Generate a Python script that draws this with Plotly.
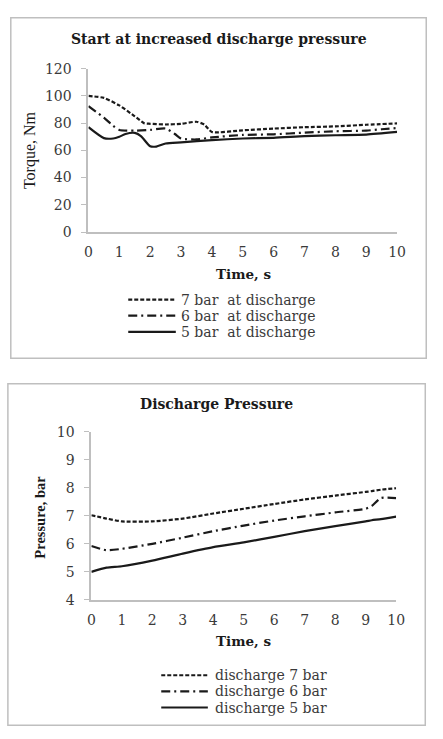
import plotly.graph_objects as go

W, H = 443, 739
def px(x): return x / W
def py(y): return 1 - y / H

# ---- Top chart data: torque (Nm) vs time (s)
t7 = [0, 0.5, 1, 1.5, 1.8, 2, 2.5, 3, 3.5, 3.75, 4, 5, 6, 7, 8, 9, 10]
q7 = [100, 98.5, 93, 85, 80, 79.5, 79, 79.5, 81, 79, 73.5, 74.7, 76, 77, 77.6, 78.8, 79.8]
t6 = [0, 0.5, 0.8, 1, 1.5, 2, 2.5, 2.8, 3, 3.5, 4, 5, 6, 7, 8, 9, 9.5, 10]
q6 = [92.5, 84, 78, 75, 74.5, 75, 76, 72, 68.7, 68, 69.5, 71.3, 71.8, 73, 74, 74.5, 75.5, 76.4]
t5 = [0, 0.5, 0.8, 1, 1.2, 1.5, 1.7, 2, 2.2, 2.5, 3, 4, 5, 6, 7, 8, 9, 10]
q5 = [77, 69, 68.7, 70, 72, 72.8, 70.5, 63, 62.8, 65, 65.9, 67.5, 68.7, 69.2, 70.4, 71.1, 71.6, 73.5]

# ---- Bottom chart data: discharge pressure (bar) vs time (s)
tp = [0, 0.5, 1, 2, 3, 4, 5, 6, 7, 8, 9, 9.2, 9.5, 10]
p7 = [7.02, 6.9, 6.8, 6.8, 6.9, 7.08, 7.25, 7.42, 7.58, 7.72, 7.85, 7.88, 7.93, 7.98]
p6 = [5.92, 5.77, 5.82, 6.0, 6.22, 6.45, 6.65, 6.83, 6.98, 7.12, 7.25, 7.35, 7.63, 7.63]
p5 = [5.0, 5.15, 5.2, 5.4, 5.65, 5.88, 6.05, 6.25, 6.45, 6.63, 6.8, 6.84, 6.88, 6.97]

top_names = ["7 bar\u00a0 at discharge", "6 bar\u00a0 at discharge", "5 bar\u00a0 at discharge"]
bot_names = ["discharge 7 bar", "discharge 6 bar", "discharge 5 bar"]

xticks = list(range(0, 11))
yticks_top = list(range(0, 121, 20))
yticks_bot = list(range(4, 11))

SERIF = "DejaVu Serif"
TSERIF = "Liberation Serif"
INK = "#1a1a1a"
TXT = "#3a3a3a"
GRID = "#bfbfbf"

dash7 = "4px,2px"
dash6 = "9px,4px,2px,4px"
dashes = [dash7, dash6, "solid"]

fig = go.Figure()
for (tx, vy), nm, d in zip([(t7, q7), (t6, q6), (t5, q5)], top_names, dashes):
    fig.add_trace(go.Scatter(x=tx, y=vy, mode="lines", name=nm, showlegend=False,
                             line=dict(color=INK, width=2.2, dash=d, shape="spline", smoothing=0.6),
                             xaxis="x", yaxis="y"))
for vy, nm, d in zip([p7, p6, p5], bot_names, dashes):
    fig.add_trace(go.Scatter(x=tp, y=vy, mode="lines", name=nm, showlegend=False,
                             line=dict(color=INK, width=2.2, dash=d, shape="spline", smoothing=0.6),
                             xaxis="x2", yaxis="y2"))

axfont = dict(family=SERIF, size=14, color=TXT)

def xax(anchor, dom):
    return dict(domain=dom, range=[0, 10], tickvals=xticks, showgrid=False, zeroline=False,
                showline=True, linecolor=GRID, linewidth=2, ticks="", tickfont=axfont,
                ticklabelstandoff=6, anchor=anchor, fixedrange=True)

def yax(anchor, dom, rng, tv):
    return dict(domain=dom, range=rng, tickvals=tv, showgrid=False, zeroline=False,
                showline=True, linecolor=GRID, linewidth=2, ticks="outside", ticklen=5,
                tickcolor=GRID, tickwidth=1, tickfont=axfont, ticklabelstandoff=7,
                anchor=anchor, fixedrange=True)

fig.update_layout(
    width=W, height=H, margin=dict(l=0, r=0, t=0, b=0),
    paper_bgcolor="white", plot_bgcolor="white",
    font=dict(family=SERIF, color=INK),
    xaxis=xax("y", [px(87), px(405)]),
    yaxis=yax("x", [py(229), py(62)], [0, 120], yticks_top),
    xaxis2=xax("y2", [px(90), px(404)]),
    yaxis2=yax("x2", [py(605), py(433)], [4, 10], yticks_bot),
    showlegend=False,
)

# frames
fig.add_shape(type="rect", xref="paper", yref="paper", x0=px(7), x1=px(435), y0=py(358), y1=py(10),
              line=dict(color=GRID, width=1.5))
fig.add_shape(type="rect", xref="paper", yref="paper", x0=px(4), x1=px(434), y0=py(733), y1=py(384),
              line=dict(color=GRID, width=1.5))

def ann(text, x, y, size, bold=True, angle=0, color=INK, family=SERIF, xanchor="center"):
    fig.add_annotation(text=f"<b>{text}</b>" if bold else text, x=px(x), y=py(y), xref="paper", yref="paper",
                       showarrow=False, textangle=angle, xanchor=xanchor, yanchor="middle",
                       font=dict(family=family, size=size, color=color))

# legends (sample line + label)
def legend(names, x0, x1, xt, ys):
    for nm, d, y in zip(names, dashes, ys):
        fig.add_shape(type="line", xref="paper", yref="paper", x0=px(x0), x1=px(x1), y0=py(y), y1=py(y),
                      line=dict(color=INK, width=2.2, dash=d))
        ann(nm, xt, y, 14, bold=False, color=TXT, xanchor="left")

legend(top_names, 128, 177, 180, [298, 314.5, 331])
legend(bot_names, 162, 210, 215, [682, 698.5, 715])

ann("Start at increased discharge pressure", 221, 32, 14)
ann("Time, s", 247, 272, 13.5)
ann("Torque, Nm", 27, 145, 16, bold=False, angle=-90, family=TSERIF)
ann("Discharge Pressure", 219, 405, 14)
ann("Time, s", 247, 647, 13.5)
ann("Pressure, bar", 37, 520, 14.5, angle=-90, family=TSERIF)

fig.write_html("out.html")
